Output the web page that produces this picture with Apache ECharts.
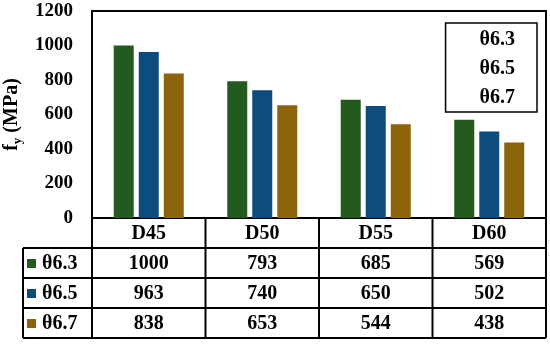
<!DOCTYPE html>
<html><head><meta charset="utf-8">
<script src="https://cdn.jsdelivr.net/npm/echarts@6/dist/echarts.min.js"></script>
<style>html,body{margin:0;padding:0;background:#fff}#c{width:550px;height:346px}</style>
</head><body><div id="c"></div>
<script>
var categories = ['D45', 'D50', 'D55', 'D60'];
var seriesNames = ['θ6.3', 'θ6.5', 'θ6.7'];
var s63 = [1000, 793, 685, 569];
var s65 = [963, 740, 650, 502];
var s67 = [838, 653, 544, 438];
var colors = ['#235B1F', '#0C4D7D', '#8B640B'];
var allSeries = [s63, s65, s67];

var FONT = '"Liberation Serif", "Times New Roman", serif';
var gL = 92, gR = 546, gT = 11, gB = 218, rowH = 30, labL = 23;
var W = 550, H = 346;

var chart = echarts.init(document.getElementById('c'), null, {renderer: 'canvas'});

var graphics = [];
var colW = (gR - gL) / categories.length;
var lw = 2;
function line(x1, y1, x2, y2) {
  graphics.push({type: 'line', shape: {x1: x1, y1: y1, x2: x2, y2: y2},
    style: {stroke: '#000', lineWidth: lw}, z: 10});
}
var tableBottom = gB + rowH * (1 + seriesNames.length);
line(gL, gB, gL, tableBottom);
line(gR, gB, gR, tableBottom);
for (var i = 1; i < categories.length; i++) line(gL + colW * i, gB, gL + colW * i, tableBottom);
for (var r = 1; r <= seriesNames.length + 1; r++) line(labL, gB + rowH * r, gR, gB + rowH * r);
line(labL, gB + rowH, labL, tableBottom);
categories.forEach(function (c, i) {
  graphics.push({type: 'text', x: gL + colW * (i + 0.5), y: gB + rowH * 0.5 + 1,
    style: {text: c, font: 'bold 20px ' + FONT, fill: '#000', align: 'center', verticalAlign: 'middle'}, z: 11});
});
seriesNames.forEach(function (n, r) {
  var cy = gB + rowH * (r + 1.5) + 1;
  graphics.push({type: 'rect', shape: {x: labL + 4, y: cy - 5, width: 9, height: 9},
    style: {fill: colors[r]}, z: 11});
  graphics.push({type: 'text', x: labL + 19, y: cy,
    style: {text: n, font: 'bold 20px ' + FONT, fill: '#000', align: 'left', verticalAlign: 'middle'}, z: 11});
  allSeries[r].forEach(function (v, i) {
    graphics.push({type: 'text', x: gL + colW * (i + 0.5), y: cy,
      style: {text: String(v), font: 'bold 20px ' + FONT, fill: '#000', align: 'center', verticalAlign: 'middle'}, z: 11});
  });
});

var option = {
  animation: false,
  backgroundColor: '#fff',
  grid: {left: gL, right: W - gR, top: gT, bottom: H - gB, show: true,
    containLabel: false, outerBoundsMode: 'none',
    borderColor: '#000', borderWidth: 2, backgroundColor: 'transparent'},
  legend: {
    data: seriesNames, orient: 'vertical', right: W - 537, top: 23,
    icon: 'rect', itemWidth: 0, itemHeight: 0, itemGap: 9,
    padding: [7, 22, 4, 29], borderColor: '#000', borderWidth: 1.5,
    textStyle: {fontFamily: FONT, fontWeight: 'bold', fontSize: 20, color: '#000', lineHeight: 20}
  },
  xAxis: {type: 'category', data: categories, axisLabel: {show: false},
    axisTick: {show: false}, axisLine: {show: false}},
  yAxis: {type: 'value', min: 0, max: 1200, interval: 200,
    name: '{f|f}{s|y}{f| (MPa)}', nameLocation: 'middle', nameGap: 60, nameRotate: 90,
    nameTextStyle: {rich: {
      f: {fontFamily: FONT, fontWeight: 'bold', fontSize: 20, color: '#000'},
      s: {fontFamily: FONT, fontWeight: 'bold', fontSize: 13, color: '#000', verticalAlign: 'bottom', padding: [12, 0, 0, 0]}
    }},
    splitLine: {show: false}, axisLine: {show: false}, axisTick: {show: false},
    axisLabel: {margin: 19, fontFamily: FONT, fontWeight: 'bold', fontSize: 19, color: '#000',
      formatter: function (v) { return String(v); }}
  },
  series: seriesNames.map(function (n, k) {
    return {name: n, type: 'bar', data: allSeries[k], barWidth: 20, barGap: '25%',
      itemStyle: {color: colors[k]}};
  }),
  graphic: graphics
};
chart.setOption(option);
</script></body></html>
